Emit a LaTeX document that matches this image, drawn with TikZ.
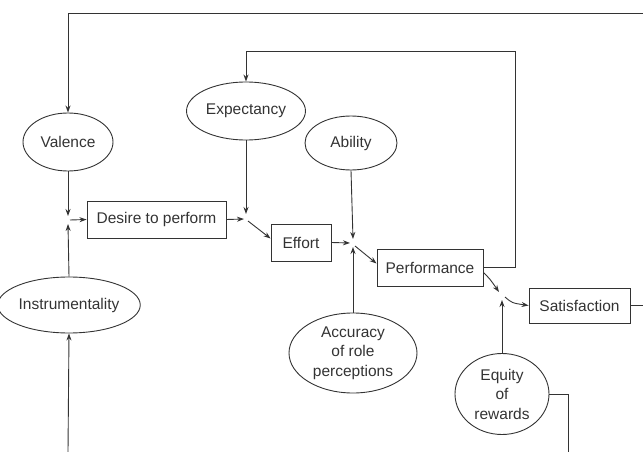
\documentclass[tikz,border=0pt]{standalone}
\usepackage{fontspec}
\setmainfont{Liberation Sans}
\usetikzlibrary{shapes.geometric,arrows.meta,calc}
\tikzset{
  ink/.style={draw=black!80, line width=0.9pt},
  oval/.style={ink, ellipse, inner sep=0pt, align=center, text=black!80, font=\fontsize{15.5}{19.5}\selectfont},
  box/.style={ink, rectangle, inner sep=0pt, text=black!80, font=\fontsize{15.5}{19}\selectfont},
  arr/.style={ink, -{Stealth[length=7pt,width=5pt]}},
  ln/.style={ink}
}
\begin{document}
\begin{tikzpicture}[x=1pt,y=-1pt]
\useasboundingbox (0,0) rectangle (643,452);
% ellipses
\node[oval, minimum width=90pt, minimum height=58pt] (Valence) at (68,142) {Valence};
\node[oval, minimum width=119pt, minimum height=58pt] (Expectancy) at (246,111) {Expectancy};
\node[oval, minimum width=92pt, minimum height=54pt] (Ability) at (351,143) {Ability};
\node[oval, minimum width=121pt, minimum height=56pt] (Instrumentality) at (69,305) {Instrumentality};
\node[oval, minimum width=128pt, minimum height=80pt] (Accuracy) at (353,353) {Accuracy\\of role\\perceptions};
\node[oval, minimum width=94pt, minimum height=81pt] (Equity) at (502,394) {Equity\\of\\rewards};
% boxes
\node[box, minimum width=139pt, minimum height=37pt] (Desire) at (156.5,219.5) {Desire to perform};
\node[box, minimum width=60pt, minimum height=37pt] (Effort) at (301,242.5) {Effort};
\node[box, minimum width=106pt, minimum height=37pt] (Performance) at (430,267.5) {Performance};
\node[box, minimum width=101pt, minimum height=35pt] (Satisfaction) at (579.5,305.5) {Satisfaction};
% junction points and free ends
\coordinate (j1a) at (68,216);
\coordinate (j1b) at (68,224);
\coordinate (j1c) at (70,220);
\coordinate (j2a) at (246,214);
\coordinate (j2b) at (244,219);
\coordinate (j2c) at (248,221);
\coordinate (j3a) at (353,239);
\coordinate (j3b) at (353,247);
\coordinate (j3c) at (350,243);
\coordinate (j3d) at (355,246);
\coordinate (j4a) at (499,292);
\coordinate (j4b) at (502,300);
\coordinate (j4c) at (505,297);
\coordinate (fb) at (515,51);
\coordinate (topR) at (643,13);
\coordinate (satR) at (643,305.5);
\coordinate (eqB) at (568,452);
\coordinate (inB) at (68,452);
% connectors
\draw[arr] (Valence.south) -- (j1a);
\draw[arr] (Instrumentality.north) -- (j1b);
\draw[arr] (j1c) -- (Desire.west);
\draw[arr] (Expectancy.south) -- (j2a);
\draw[arr] (Desire.east) -- (j2b);
\draw[arr] (j2c) -- ($(Effort.west)+(0,-4)$);
\draw[arr] (Ability.south) -- (j3a);
\draw[arr] (Accuracy.north) -- (j3b);
\draw[arr] (Effort.east) -- (j3c);
\draw[arr] (j3d) -- ($(Performance.west)+(0,-4)$);
\draw[arr] ($(Performance.east)+(0,5)$) .. controls (490,279) .. (j4a);
\draw[arr] (Equity.north) -- (j4b);
\draw[arr] (j4c) .. controls (512,303) .. (Satisfaction.west);
\draw[arr] (Performance.east) -| (fb) -| (Expectancy.north);
\draw[arr] (topR) -| (Valence.north);
\draw[ln] (Satisfaction.east) -- (satR);
\draw[ln] (Equity.east) -| (eqB);
\draw[arr] (inB) -- (Instrumentality.south);
\end{tikzpicture}
\end{document}
